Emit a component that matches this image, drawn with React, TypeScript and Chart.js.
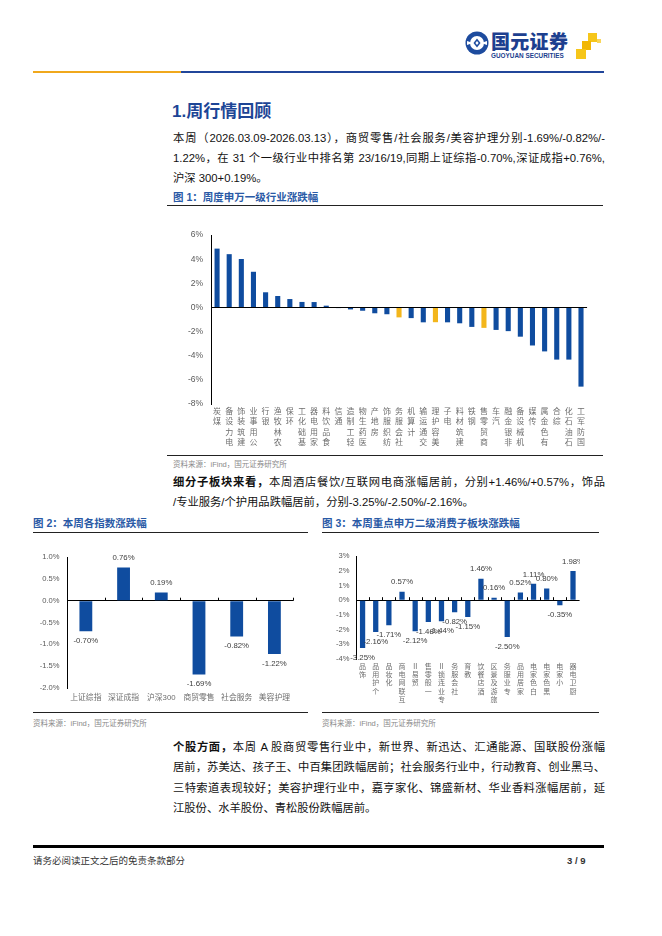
import React, { useEffect, useRef } from "react";
import { Chart, registerables } from "chart.js";

Chart.register(...registerables);

// ---------- DATA ----------
const industryNames = [
  "煤炭", "电力设备", "建筑装饰", "公用事业", "银行", "农林牧渔", "环保", "基础化工",
  "家用电器", "食品饮料", "通信", "轻工制造", "医药生物", "房地产", "纺织服饰", "社会服务",
  "计算机", "交通运输", "美容护理", "电子", "建筑材料", "钢铁", "商贸零售", "汽车",
  "非银金融", "机械设备", "传媒", "有色金属", "综合", "石油石化", "国防军工",
];
const industryChanges = [
  4.88, 4.42, 4.02, 2.96, 1.26, 0.95, 0.7, 0.46, 0.45, 0.15, -0.05, -0.16, -0.27, -0.48,
  -0.56, -0.82, -0.88, -1.23, -1.22, -1.23, -1.31, -1.61, -1.69, -1.86, -1.96, -2.42,
  -3.15, -3.64, -4.32, -4.32, -6.56,
];
const highlightIndustries = ["社会服务", "美容护理", "商贸零售"];
const industryTicks = { min: -8, max: 6, step: 2 };

const indexNames = ["上证综指", "深证成指", "沪深300", "商贸零售", "社会服务", "美容护理"];
const indexChanges = [-0.7, 0.76, 0.19, -1.69, -0.82, -1.22];
const indexTicks = { min: -2, max: 1, step: 0.5 };

const subSectorNames = [
  "饰品", "个护用品", "化妆品", "互联网电商", "贸易Ⅱ", "一般零售", "专业连锁Ⅱ", "社会服务",
  "教育", "酒店餐饮", "旅游及景区", "专业服务", "家居用品", "白色家电", "黑色家电", "小家电", "厨卫电器",
];
const subSectorChanges = [
  -3.25, -2.16, -1.71, 0.57, -2.12, -1.48, -1.44, -0.82, -1.15, 1.46, 0.16, -2.5, 0.52,
  1.11, 0.8, -0.35, 1.98,
];
const subSectorTicks = { min: -4, max: 3, step: 1 };

// ---------- STYLE ----------
const BLUE = "#0f4c9f";
const YELLOW = "#f3b61c";
const LATIN = "'Liberation Sans', 'Noto Sans CJK SC', sans-serif";
const CJK = "'Liberation Sans', 'Noto Sans CJK SC', sans-serif";

// labels read bottom-to-top, characters upright
const vert = (s: string) => Array.from(s).reverse();

const valueLabelPlugin = {
  id: "valueLabels",
  afterDatasetsDraw(chart: any, _args: any, opts: any) {
    if (!opts || !opts.show) return;
    const ctx = chart.ctx;
    const meta = chart.getDatasetMeta(0);
    const data = chart.data.datasets[0].data as number[];
    ctx.save();
    ctx.font = opts.font;
    ctx.fillStyle = opts.color;
    ctx.textAlign = "center";
    ctx.textBaseline = "middle";
    meta.data.forEach((bar: any, i: number) => {
      const v = data[i];
      const y = v >= 0 ? bar.y - opts.offset : bar.y + opts.offset;
      ctx.fillText(v.toFixed(2) + "%", bar.x, y);
    });
    ctx.restore();
  },
};

const zeroTicksPlugin = {
  id: "zeroTicks",
  afterDatasetsDraw(chart: any, _args: any, opts: any) {
    if (!opts || !opts.show) return;
    const ctx = chart.ctx;
    const xs = chart.scales.x;
    const ys = chart.scales.y;
    const y0 = ys.getPixelForValue(0);
    const n = chart.data.labels.length;
    const half = (xs.getPixelForValue(1) - xs.getPixelForValue(0)) / 2;
    ctx.save();
    ctx.strokeStyle = "#000";
    ctx.lineWidth = 1;
    ctx.beginPath();
    for (let i = 0; i < n; i++) {
      const px = Math.round(xs.getPixelForValue(i) + half) + 0.5;
      ctx.moveTo(px, y0 - opts.len);
      ctx.lineTo(px, y0);
    }
    ctx.stroke();
    ctx.restore();
  },
};

type ChartProps = {
  left: number;
  top: number;
  width: number;
  height: number;
  labels: any[];
  values: number[];
  colors: string[] | string;
  ticks: { min: number; max: number; step: number };
  fmt: (v: number) => string;
  yWidth: number;
  xHeight: number;
  yFont: number;
  yPad: number;
  xFont: number;
  xLineHeight: number;
  xPad: number;
  barPct: number;
  valueLabels?: { font: string; offset: number };
  zeroTicks?: number;
};

function BarChart(p: ChartProps) {
  const ref = useRef<HTMLCanvasElement | null>(null);
  useEffect(() => {
    if (!ref.current) return;
    const chart = new Chart(ref.current, {
      type: "bar",
      data: {
        labels: p.labels,
        datasets: [
          {
            data: p.values,
            backgroundColor: p.colors as any,
            borderWidth: 0,
            categoryPercentage: 1,
            barPercentage: p.barPct,
          },
        ],
      },
      plugins: [valueLabelPlugin, zeroTicksPlugin],
      options: {
        animation: false,
        responsive: true,
        maintainAspectRatio: false,
        layout: { padding: { top: 10, left: 0, right: 0, bottom: 0 } },
        plugins: {
          legend: { display: false },
          tooltip: { enabled: false },
          valueLabels: p.valueLabels
            ? { show: true, font: p.valueLabels.font, offset: p.valueLabels.offset, color: "#404040" }
            : { show: false },
          zeroTicks: p.zeroTicks ? { show: true, len: p.zeroTicks } : { show: false },
        } as any,
        scales: {
          x: {
            grid: { display: false, drawTicks: false },
            border: { display: false },
            afterFit: (s: any) => {
              s.height = p.xHeight;
            },
            ticks: {
              autoSkip: false,
              maxRotation: 0,
              minRotation: 0,
              padding: p.xPad,
              color: "#6e6e6e",
              font: { family: CJK, size: p.xFont, lineHeight: p.xLineHeight },
            },
          },
          y: {
            min: p.ticks.min,
            max: p.ticks.max,
            afterFit: (s: any) => {
              s.width = p.yWidth;
            },
            border: { display: true, color: "#000", width: 1 },
            grid: {
              drawTicks: false,
              lineWidth: 1,
              color: (c: any) => (c.tick && c.tick.value === 0 ? "#000" : "rgba(0,0,0,0)"),
            },
            ticks: {
              stepSize: p.ticks.step,
              padding: p.yPad,
              color: "#595959",
              font: { family: LATIN, size: p.yFont },
              callback: (v: any) => p.fmt(Number(v)),
            },
          },
        },
      },
    });
    return () => chart.destroy();
  }, []);
  return (
    <div style={{ position: "absolute", left: p.left, top: p.top, width: p.width, height: p.height }}>
      <canvas ref={ref} />
    </div>
  );
}

const abs = (left: number, top: number, extra: React.CSSProperties = {}): React.CSSProperties => ({
  position: "absolute",
  left,
  top,
  ...extra,
});

function Para({ left, top, width, lines, size, lh }: { left: number; top: number; width: number; lines: React.ReactNode[]; size: number; lh: number }) {
  return (
    <div style={abs(left, top, { width, fontFamily: CJK, fontSize: size, lineHeight: lh + "px", color: "#111" })}>
      {lines.map((ln, i) => (
        <div
          key={i}
          style={{
            textAlign: "justify",
            textAlignLast: i < lines.length - 1 ? "justify" : "left",
            whiteSpace: "nowrap",
          } as any}
        >
          {ln}
        </div>
      ))}
    </div>
  );
}

const figTitle: React.CSSProperties = {
  fontFamily: CJK,
  fontSize: 10.5,
  fontWeight: 700,
  color: "#2a5aa6",
  lineHeight: "14px",
  whiteSpace: "nowrap",
};
const source: React.CSSProperties = {
  fontFamily: CJK,
  fontSize: 7.5,
  color: "#8a8a8a",
  lineHeight: "10px",
  whiteSpace: "nowrap",
};

export default function App() {
  const industryColors = industryNames.map((n) => (highlightIndustries.includes(n) ? YELLOW : BLUE));
  return (
    <div style={{ position: "absolute", left: 0, top: 0, width: 662, height: 936, background: "#fff", overflow: "hidden" }}>
      {/* logo */}
      <svg style={abs(465, 31)} width={24} height={24} viewBox="0 0 24 24">
        <circle cx={12} cy={12} r={11.5} fill="#1d4b9e" />
        <circle cx={12} cy={12} r={7} fill="#fff" />
        <path d="M2 10 L8 12 L2 14 Z" fill="#fff" />
        <path d="M22 10 L16 12 L22 14 Z" fill="#fff" />
        <path d="M12 7.5 L15.5 12 L12 16.5 L8.5 12 Z" fill="#1d4b9e" />
        <path d="M12 10 L13.6 12 L12 14 L10.4 12 Z" fill="#fff" />
      </svg>
      <div style={abs(491, 30, { fontFamily: "'Noto Sans CJK SC'", fontWeight: 900, fontSize: 19, color: "#1d3f8f", lineHeight: "22px", letterSpacing: 0.3, whiteSpace: "nowrap" })}>国元证券</div>
      <div style={abs(491, 52, { fontFamily: LATIN, fontWeight: 700, fontSize: 6.4, color: "#1d3f8f", lineHeight: "8px", whiteSpace: "nowrap" })}>GUOYUAN SECURITIES</div>
      <div style={abs(588, 33, { width: 9, height: 9, background: "#f6c61a" })} />
      <div style={abs(582, 41, { width: 9, height: 9, background: "#f2b705" })} />
      <div style={abs(576, 49, { width: 10, height: 10, background: "#f6c61a" })} />
      <div style={abs(597, 39, { width: 4, height: 4, background: "#f9d65a" })} />

      {/* header line */}
      <div style={abs(33, 71, { width: 148, height: 2, background: "#f0a81c" })} />
      <div style={abs(181, 71, { width: 423, height: 2, background: "#21469a" })} />

      {/* heading */}
      <div style={abs(172, 101, { fontFamily: CJK, fontSize: 17, fontWeight: 700, color: "#1d4596", lineHeight: "22px", whiteSpace: "nowrap" })}>1.周行情回顾</div>

      <Para
        left={173}
        top={127.5}
        width={432}
        size={11.3}
        lh={20}
        lines={[
          "本周（2026.03.09-2026.03.13），商贸零售/社会服务/美容护理分别-1.69%/-0.82%/-",
          "1.22%，在 31 个一级行业中排名第 23/16/19,同期上证综指-0.70%,深证成指+0.76%,",
          "沪深 300+0.19%。",
        ]}
      />

      {/* figure 1 */}
      <div style={abs(173, 190, figTitle)}>图 1：周度申万一级行业涨跌幅</div>
      <div style={abs(167, 205, { width: 436, height: 1.2, background: "#222" })} />
      <BarChart
        left={165}
        top={222}
        width={423}
        height={227}
        labels={industryNames.map(vert)}
        values={industryChanges}
        colors={industryColors}
        ticks={industryTicks}
        fmt={(v) => `${v}%`}
        yWidth={46}
        xHeight={45}
        yFont={8.5}
        yPad={8}
        xFont={8}
        xLineHeight={1.27}
        xPad={3}
        barPct={0.42}
      />
      <div style={abs(167, 455, { width: 436, height: 1.2, background: "#222" })} />
      <div style={abs(173, 460, source)}>资料来源：iFind，国元证券研究所</div>

      <Para
        left={173}
        top={472}
        width={432}
        size={11.3}
        lh={20}
        lines={[
          <>
            <b>细分子板块来看，</b>本周酒店餐饮/互联网电商涨幅居前，分别+1.46%/+0.57%，饰品
          </>,
          "/专业服务/个护用品跌幅居前，分别-3.25%/-2.50%/-2.16%。",
        ]}
      />

      {/* figure 2 */}
      <div style={abs(33, 516, figTitle)}>图 2：本周各指数涨跌幅</div>
      <div style={abs(33, 532, { width: 275, height: 1.2, background: "#222" })} />
      <BarChart
        left={31}
        top={545}
        width={264}
        height={163}
        labels={indexNames}
        values={indexChanges}
        colors={BLUE}
        ticks={indexTicks}
        fmt={(v) => `${v.toFixed(1)}%`}
        yWidth={36}
        xHeight={20}
        yFont={7.6}
        yPad={7.5}
        xFont={7.8}
        xLineHeight={1.2}
        xPad={5}
        barPct={0.34}
        valueLabels={{ font: `7.8px ${LATIN}`, offset: 9.5 }}
        zeroTicks={3}
      />
      <div style={abs(33, 712, { width: 275, height: 1.2, background: "#222" })} />
      <div style={abs(33, 719, source)}>资料来源：iFind，国元证券研究所</div>

      {/* figure 3 */}
      <div style={abs(322, 516, figTitle)}>图 3：本周重点申万二级消费子板块涨跌幅</div>
      <div style={abs(322, 532, { width: 277, height: 1.2, background: "#222" })} />
      <BarChart
        left={326}
        top={545}
        width={254}
        height={159}
        labels={subSectorNames.map(vert)}
        values={subSectorChanges}
        colors={BLUE}
        ticks={subSectorTicks}
        fmt={(v) => `${v}%`}
        yWidth={30}
        xHeight={45}
        yFont={7.6}
        yPad={6.5}
        xFont={7}
        xLineHeight={1.19}
        xPad={3.5}
        barPct={0.4}
        valueLabels={{ font: `7.8px ${LATIN}`, offset: 9.5 }}
        zeroTicks={3}
      />
      <div style={abs(322, 712, { width: 277, height: 1.2, background: "#222" })} />
      <div style={abs(322, 719, source)}>资料来源：iFind，国元证券研究所</div>

      <Para
        left={173}
        top={737}
        width={432}
        size={11.3}
        lh={20.3}
        lines={[
          <>
            <b>个股方面，</b>本周 A 股商贸零售行业中，新世界、新迅达、汇通能源、国联股份涨幅
          </>,
          "居前，苏美达、孩子王、中百集团跌幅居前；社会服务行业中，行动教育、创业黑马、",
          "三特索道表现较好；美容护理行业中，嘉亨家化、锦盛新材、华业香料涨幅居前，延",
          "江股份、水羊股份、青松股份跌幅居前。",
        ]}
      />

      {/* footer */}
      <div style={abs(33, 845, { width: 571, height: 2.5, background: "#000" })} />
      <div style={abs(33, 854, { fontFamily: CJK, fontSize: 9.5, color: "#333", lineHeight: "13px", whiteSpace: "nowrap" })}>请务必阅读正文之后的免责条款部分</div>
      <div style={abs(567, 854, { fontFamily: LATIN, fontSize: 9.5, fontWeight: 700, color: "#333", lineHeight: "13px", whiteSpace: "nowrap" })}>3 / 9</div>
    </div>
  );
}
